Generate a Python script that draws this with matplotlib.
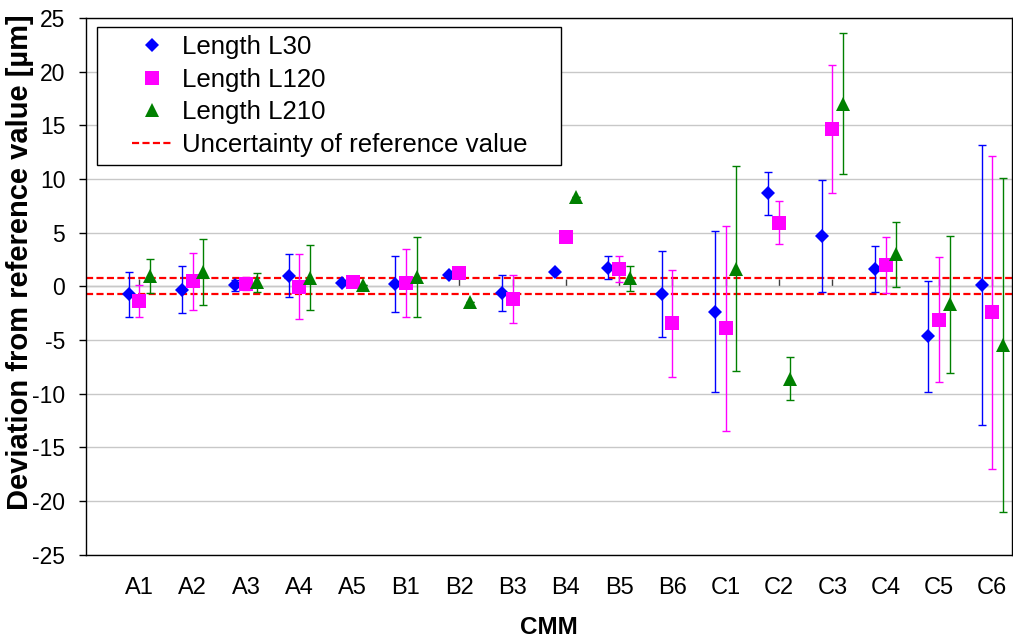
import numpy as np
import matplotlib
matplotlib.use("Agg")
import matplotlib.pyplot as plt
from matplotlib.lines import Line2D
from matplotlib.legend_handler import HandlerLine2D

plt.rcParams['font.family'] = ['Liberation Sans', 'DejaVu Sans']
plt.rcParams['axes.unicode_minus'] = False

# Coordinate measuring machines
categories = ['A1', 'A2', 'A3', 'A4', 'A5', 'B1', 'B2', 'B3', 'B4', 'B5', 'B6',
              'C1', 'C2', 'C3', 'C4', 'C5', 'C6']

# Deviation from reference value [µm] and expanded uncertainty (symmetric)
l30 = [-0.75, -0.3, 0.08, 0.97, 0.35, 0.23, 1.05, -0.6, 1.33, 1.75, -0.73,
       -2.35, 8.67, 4.67, 1.65, -4.67, 0.15]
l30_err = [2.1, 2.15, 0.55, 2.0, 0.0, 2.63, 0.0, 1.68, 0.0, 1.08, 4.0,
           7.52, 2.0, 5.2, 2.15, 5.2, 13.05]

l120 = [-1.37, 0.45, 0.25, -0.05, 0.4, 0.32, 1.2, -1.15, 4.6, 1.63, -3.42,
        -3.9, 5.93, 14.65, 2.0, -3.1, -2.42]
l120_err = [1.5, 2.62, 0.6, 3.02, 0.0, 3.18, 0.0, 2.22, 0.0, 1.23, 4.98,
            9.53, 2.0, 5.92, 2.62, 5.83, 14.55]

l210 = [0.92, 1.35, 0.37, 0.82, 0.15, 0.87, -1.45, np.nan, 8.3, 0.73, np.nan,
        1.63, -8.6, 17.0, 2.98, -1.68, -5.42]
l210_err = [1.58, 3.05, 0.87, 3.02, 0.0, 3.7, 0.0, np.nan, 0.0, 1.17, np.nan,
            9.53, 2.0, 6.57, 3.05, 6.4, 15.55]

# Uncertainty band of the reference value [µm]
ref_uncertainty = 0.75

series = [
    ('Length L30', l30, l30_err, 'D', '#0000FF', 7.4, -0.2),
    ('Length L120', l120, l120_err, 's', '#FF00FF', 10.0, 0.0),
    ('Length L210', l210, l210_err, '^', '#008000', 10.5, 0.2),
]

fig = plt.figure(figsize=(10.13, 6.37), dpi=100)
ax = fig.add_axes([0.085, 0.129, 0.914, 0.843])

x = np.arange(1, len(categories) + 1)

ax.set_ylim(-25, 25)
ax.set_xlim(0, 17.37)
ax.set_yticks(np.arange(-25, 26, 5))
ax.yaxis.grid(True, color='#C8C8C8', linewidth=1.0)
ax.set_axisbelow(True)

# Zero line with category ticks
zero_axis = ax.secondary_xaxis(0.5)
zero_axis.set_xticks(x)
zero_axis.set_xticklabels([])
zero_axis.tick_params(direction='out', length=5, width=1, color='#404040')
zero_axis.spines['bottom'].set_color('black')
zero_axis.spines['bottom'].set_linewidth(1.0)

dash = (0, (3.2, 1.5))

# Reference value uncertainty limits
for lim in (ref_uncertainty, -ref_uncertainty):
    ax.axhline(lim, color='#FF0000', linewidth=1.6, linestyle=dash, zorder=1.5)

handles = []
for label, vals, errs, marker, color, ms, offset in series:
    vals = np.asarray(vals, dtype=float)
    errs = np.asarray(errs, dtype=float)
    ax.errorbar(x + offset, vals, yerr=errs, fmt='none', ecolor=color,
                elinewidth=1.0, capsize=2.6, capthick=1.0, zorder=3)
    ax.plot(x + offset, vals, linestyle='none', marker=marker, color=color,
            markersize=ms, markeredgewidth=0, zorder=4)
    handles.append(Line2D([], [], linestyle='none', marker=marker, color=color,
                          markersize=ms, markeredgewidth=0, label=label))

handles.append(Line2D([], [], color='#FF0000', linewidth=1.6, linestyle=dash,
                      label='Uncertainty of reference value'))

ax.set_xticks(x)
ax.set_xticklabels(categories)
ax.tick_params(axis='x', length=0, pad=16, labelsize=17)
ax.tick_params(axis='y', direction='out', length=5, width=1, labelsize=16.5,
               pad=10)

ax.set_xlabel('CMM', fontsize=17.5, fontweight='bold')
ax.xaxis.set_label_coords(0.5, -0.113)
ax.set_ylabel('Deviation from reference value [µm]', fontsize=21,
              fontweight='bold')
ax.yaxis.set_label_coords(-0.056, 0.545)

for sp in ax.spines.values():
    sp.set_color('black')
    sp.set_linewidth(1.0)

handler = HandlerLine2D(xpad=1.06)
leg = ax.legend(handles=handles, loc='upper left', mode='expand',
                bbox_to_anchor=(0.0119, 0.0, 0.5005, 0.9827),
                fontsize=18.6, frameon=True, fancybox=False,
                edgecolor='black', framealpha=1, borderpad=0.3,
                labelspacing=0.34, handlelength=2.56, handletextpad=0.43,
                borderaxespad=0,
                handler_map={Line2D: handler})
leg.get_frame().set_linewidth(1.0)

fig.savefig('out.png', dpi=100)
